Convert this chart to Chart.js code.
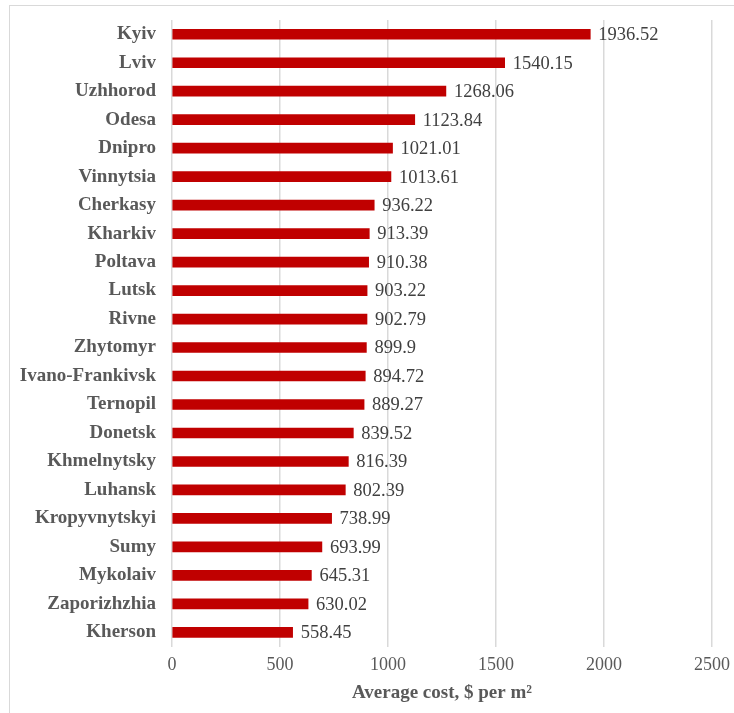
<!DOCTYPE html>
<html>
<head>
<meta charset="utf-8">
<script src="https://cdn.jsdelivr.net/npm/chart.js@4.4.1/dist/chart.umd.min.js"></script>
<style>
  body { margin: 0; background: #fff; overflow: hidden; }
  #wrap { position: relative; width: 734px; height: 713px; overflow: hidden; }
  #frame { position: absolute; left: 9px; top: 5px; width: 800px; height: 800px;
           border: 1.5px solid #d9d9d9; box-sizing: border-box; }
  canvas { position: absolute; left: 0; top: 0; }
</style>
</head>
<body>
<div id="wrap">
  <div id="frame"></div>
  <canvas id="chart" width="734" height="713"></canvas>
</div>
<script>
// Average cost per m2 by city
const cities = ['Kyiv', 'Lviv', 'Uzhhorod', 'Odesa', 'Dnipro', 'Vinnytsia', 'Cherkasy',
  'Kharkiv', 'Poltava', 'Lutsk', 'Rivne', 'Zhytomyr', 'Ivano-Frankivsk', 'Ternopil',
  'Donetsk', 'Khmelnytsky', 'Luhansk', 'Kropyvnytskyi', 'Sumy', 'Mykolaiv',
  'Zaporizhzhia', 'Kherson'];
const costs = [1936.52, 1540.15, 1268.06, 1123.84, 1021.01, 1013.61, 936.22,
  913.39, 910.38, 903.22, 902.79, 899.9, 894.72, 889.27,
  839.52, 816.39, 802.39, 738.99, 693.99, 645.31, 630.02, 558.45];
const xTicks = [0, 500, 1000, 1500, 2000, 2500];

const serif = "'Liberation Serif', 'Times New Roman', serif";

// draws the value next to the end of each bar
const valueLabels = {
    id: 'valueLabels',
    afterDatasetsDraw(chart) {
        const ctx = chart.ctx;
        const meta = chart.getDatasetMeta(0);
        ctx.save();
        ctx.font = '18.5px ' + serif;
        ctx.fillStyle = '#404040';
        ctx.textAlign = 'left';
        ctx.textBaseline = 'middle';
        meta.data.forEach((bar, i) => {
            ctx.fillText(String(costs[i]), bar.x + 8, bar.y + 1);
        });
        ctx.restore();
    }
};

new Chart(document.getElementById('chart'), {
    type: 'bar',
    data: {
        labels: cities,
        datasets: [{
            data: costs,
            backgroundColor: '#c00000',
            barThickness: 10
        }]
    },
    options: {
        indexAxis: 'y',
        responsive: false,
        animation: false,
        layout: { padding: { top: 20, right: 22, bottom: 9, left: 0 } },
        plugins: {
            legend: { display: false },
            tooltip: { enabled: false }
        },
        scales: {
            x: {
                min: 0,
                max: 2500,
                afterBuildTicks: (axis) => { axis.ticks = xTicks.map(v => ({ value: v })); },
                grid: { color: '#d9d9d9', lineWidth: 1.5, drawTicks: true, tickLength: 8, tickColor: 'transparent' },
                border: { display: false },
                ticks: {
                    padding: 0,
                    color: '#595959',
                    font: { family: serif, size: 18 },
                    callback: (v) => String(v)
                },
                title: {
                    display: true,
                    text: 'Average cost, $ per m²',
                    color: '#595959',
                    font: { family: serif, size: 19, weight: 'bold' },
                    padding: { top: 5, bottom: 0 }
                }
            },
            y: {
                afterFit: (axis) => { axis.width = 172; },
                grid: { display: true, drawOnChartArea: false, drawTicks: true, tickLength: 16, tickColor: 'transparent' },
                border: { display: false },
                ticks: {
                    padding: 0,
                    color: '#595959',
                    font: { family: serif, size: 19, weight: 'bold' }
                }
            }
        }
    },
    plugins: [valueLabels]
});
</script>
</body>
</html>
